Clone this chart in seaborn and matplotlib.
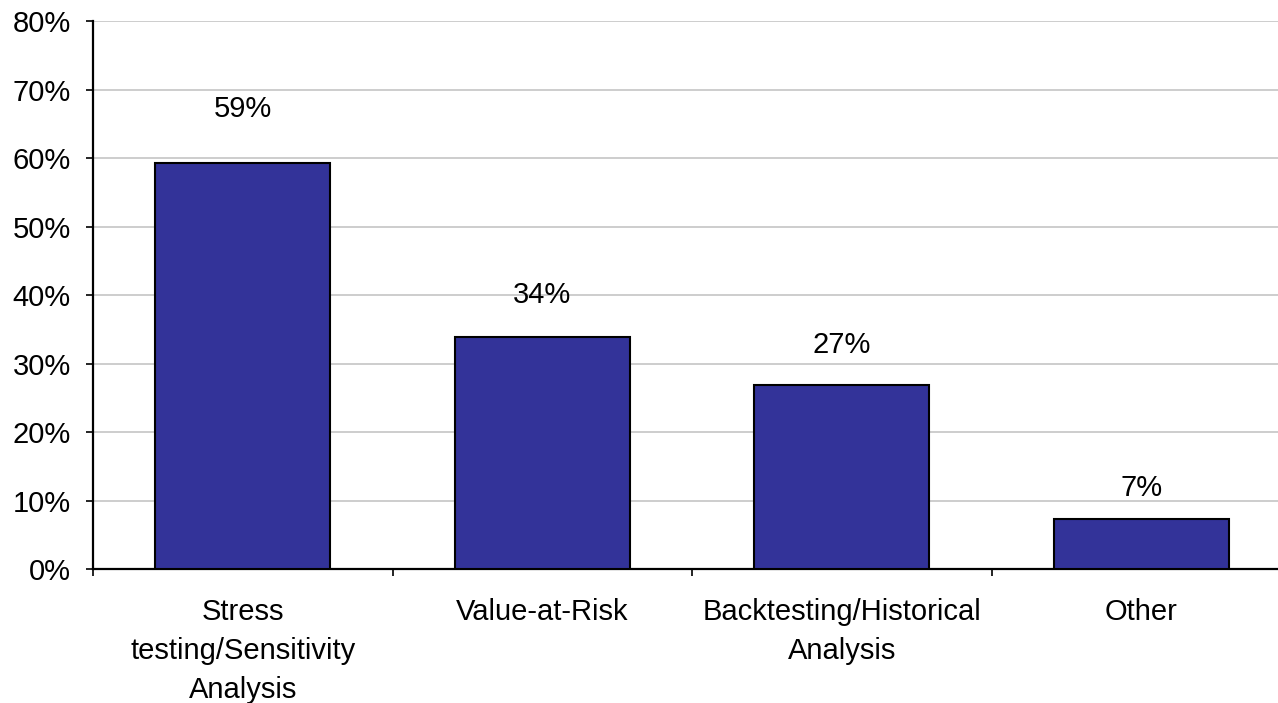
import matplotlib
matplotlib.use("Agg")
import matplotlib.pyplot as plt
from matplotlib.ticker import FixedLocator, PercentFormatter
import seaborn as sns
import pandas as pd

# Survey results: share of respondents using each risk measurement approach
categories = [
    "Stress\ntesting/Sensitivity\nAnalysis",
    "Value-at-Risk",
    "Backtesting/Historical\nAnalysis",
    "Other",
]
shares = [59.3, 33.8, 26.9, 7.3]
y_ticks = [0, 10, 20, 30, 40, 50, 60, 70, 80]

df = pd.DataFrame({"category": categories, "share": shares})

sns.set_style("white")
plt.rcParams["font.family"] = ["Liberation Sans", "DejaVu Sans"]
plt.rcParams["text.color"] = "black"
plt.rcParams["xtick.color"] = "black"
plt.rcParams["ytick.color"] = "black"

FS = 21

fig = plt.figure(figsize=(12.78, 7.03), dpi=100)
ax = fig.add_axes([0.0728, 0.1906, 0.9374, 0.7795])

sns.barplot(data=df, x="category", y="share", color="#333399",
            edgecolor="black", linewidth=1.5, width=0.585, saturation=1,
            ax=ax, zorder=3)

ax.set_xlim(-0.5, 3.5)
ax.set_ylim(0, 80)
ax.yaxis.set_major_locator(FixedLocator(y_ticks))
ax.yaxis.set_major_formatter(PercentFormatter(decimals=0))
ax.grid(axis="y", color="#c0c0c0", linewidth=1.1, zorder=0)
ax.set_axisbelow(True)

for side in ("top", "right"):
    ax.spines[side].set_visible(False)
for side in ("left", "bottom"):
    ax.spines[side].set_color("black")
    ax.spines[side].set_linewidth(1.6)

# Category labels centred under bars, tick marks on category boundaries
ax.set_xticks(range(len(categories)))
ax.set_xticklabels(categories, linespacing=1.49)
ax.set_xticks([i - 0.5 for i in range(len(categories) + 1)], minor=True)
ax.tick_params(axis="x", which="major", length=0, pad=21, labelsize=FS,
               labelcolor="black")
ax.tick_params(axis="x", which="minor", length=5, width=1.2, color="black",
               direction="out", bottom=True)
ax.tick_params(axis="y", length=5, width=1.2, color="black", direction="out",
               left=True, pad=11, labelsize=FS, labelcolor="black")
ax.set_xlabel("")
ax.set_ylabel("")

# Value labels above each bar
for i, v in enumerate(shares):
    ax.text(i, v + 4.1 + 0.064 * v, f"{v:.0f}%", ha="center", va="center",
            fontsize=FS, color="black")

fig.savefig("out.png", dpi=100)
